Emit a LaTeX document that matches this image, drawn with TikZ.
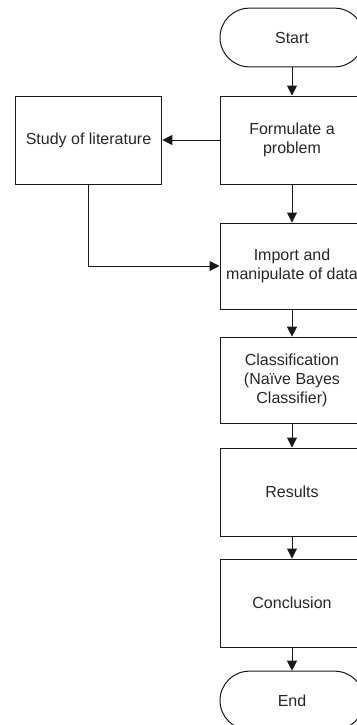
\documentclass[tikz,border=0pt]{standalone}
\usepackage{fontspec}
\setmainfont{Liberation Sans}
\usetikzlibrary{shapes, positioning, arrows.meta, calc}

\begin{document}
\begin{tikzpicture}[
    x=0.75pt, y=-0.75pt,
    every node/.style={font=\fontsize{12}{14.5}\selectfont, align=center, inner sep=0pt, text=black!85},
    box/.style={rectangle, draw=black!90, line width=0.75pt, minimum width=108pt, minimum height=66pt},
    term/.style={rectangle, draw=black!90, line width=0.75pt, rounded corners=22pt, minimum width=108pt, minimum height=44pt},
    arr/.style={draw=black!90, line width=0.75pt, -{Triangle[length=7.5pt, width=7.5pt]}}
]
    \useasboundingbox (0,0) rectangle (357,725);
    \clip (0,0) rectangle (357,725);
    % Flow chart
    \node[term] (start) at (292,37.5) {Start};
    \node[box] (formulate) at (292,140) {Formulate a\\problem};
    \node[box, minimum width=110pt] (study) at (88.5,140) {Study of literature};
    \node[box, minimum height=64.5pt] (import) at (292,266) {Import and\\manipulate of data};
    \node[box, minimum height=65pt] (classify) at (292,380.5) {Classification\\(Naïve Bayes\\Classifier)};
    \node[box] (results) at (292,492) {Results};
    \node[box] (conclusion) at (292,603) {Conclusion};
    \node[term] (end) at (292,700.5) {End};

    % Connectors
    \draw[arr] (start) -- (formulate);
    \draw[arr] (formulate) -- (study);
    \draw[arr] (formulate) -- (import);
    \draw[arr] (study.south) |- (import.west);
    \draw[arr] (import) -- (classify);
    \draw[arr] (classify) -- (results);
    \draw[arr] (results) -- (conclusion);
    \draw[arr] (conclusion) -- (end);
\end{tikzpicture}
\end{document}
